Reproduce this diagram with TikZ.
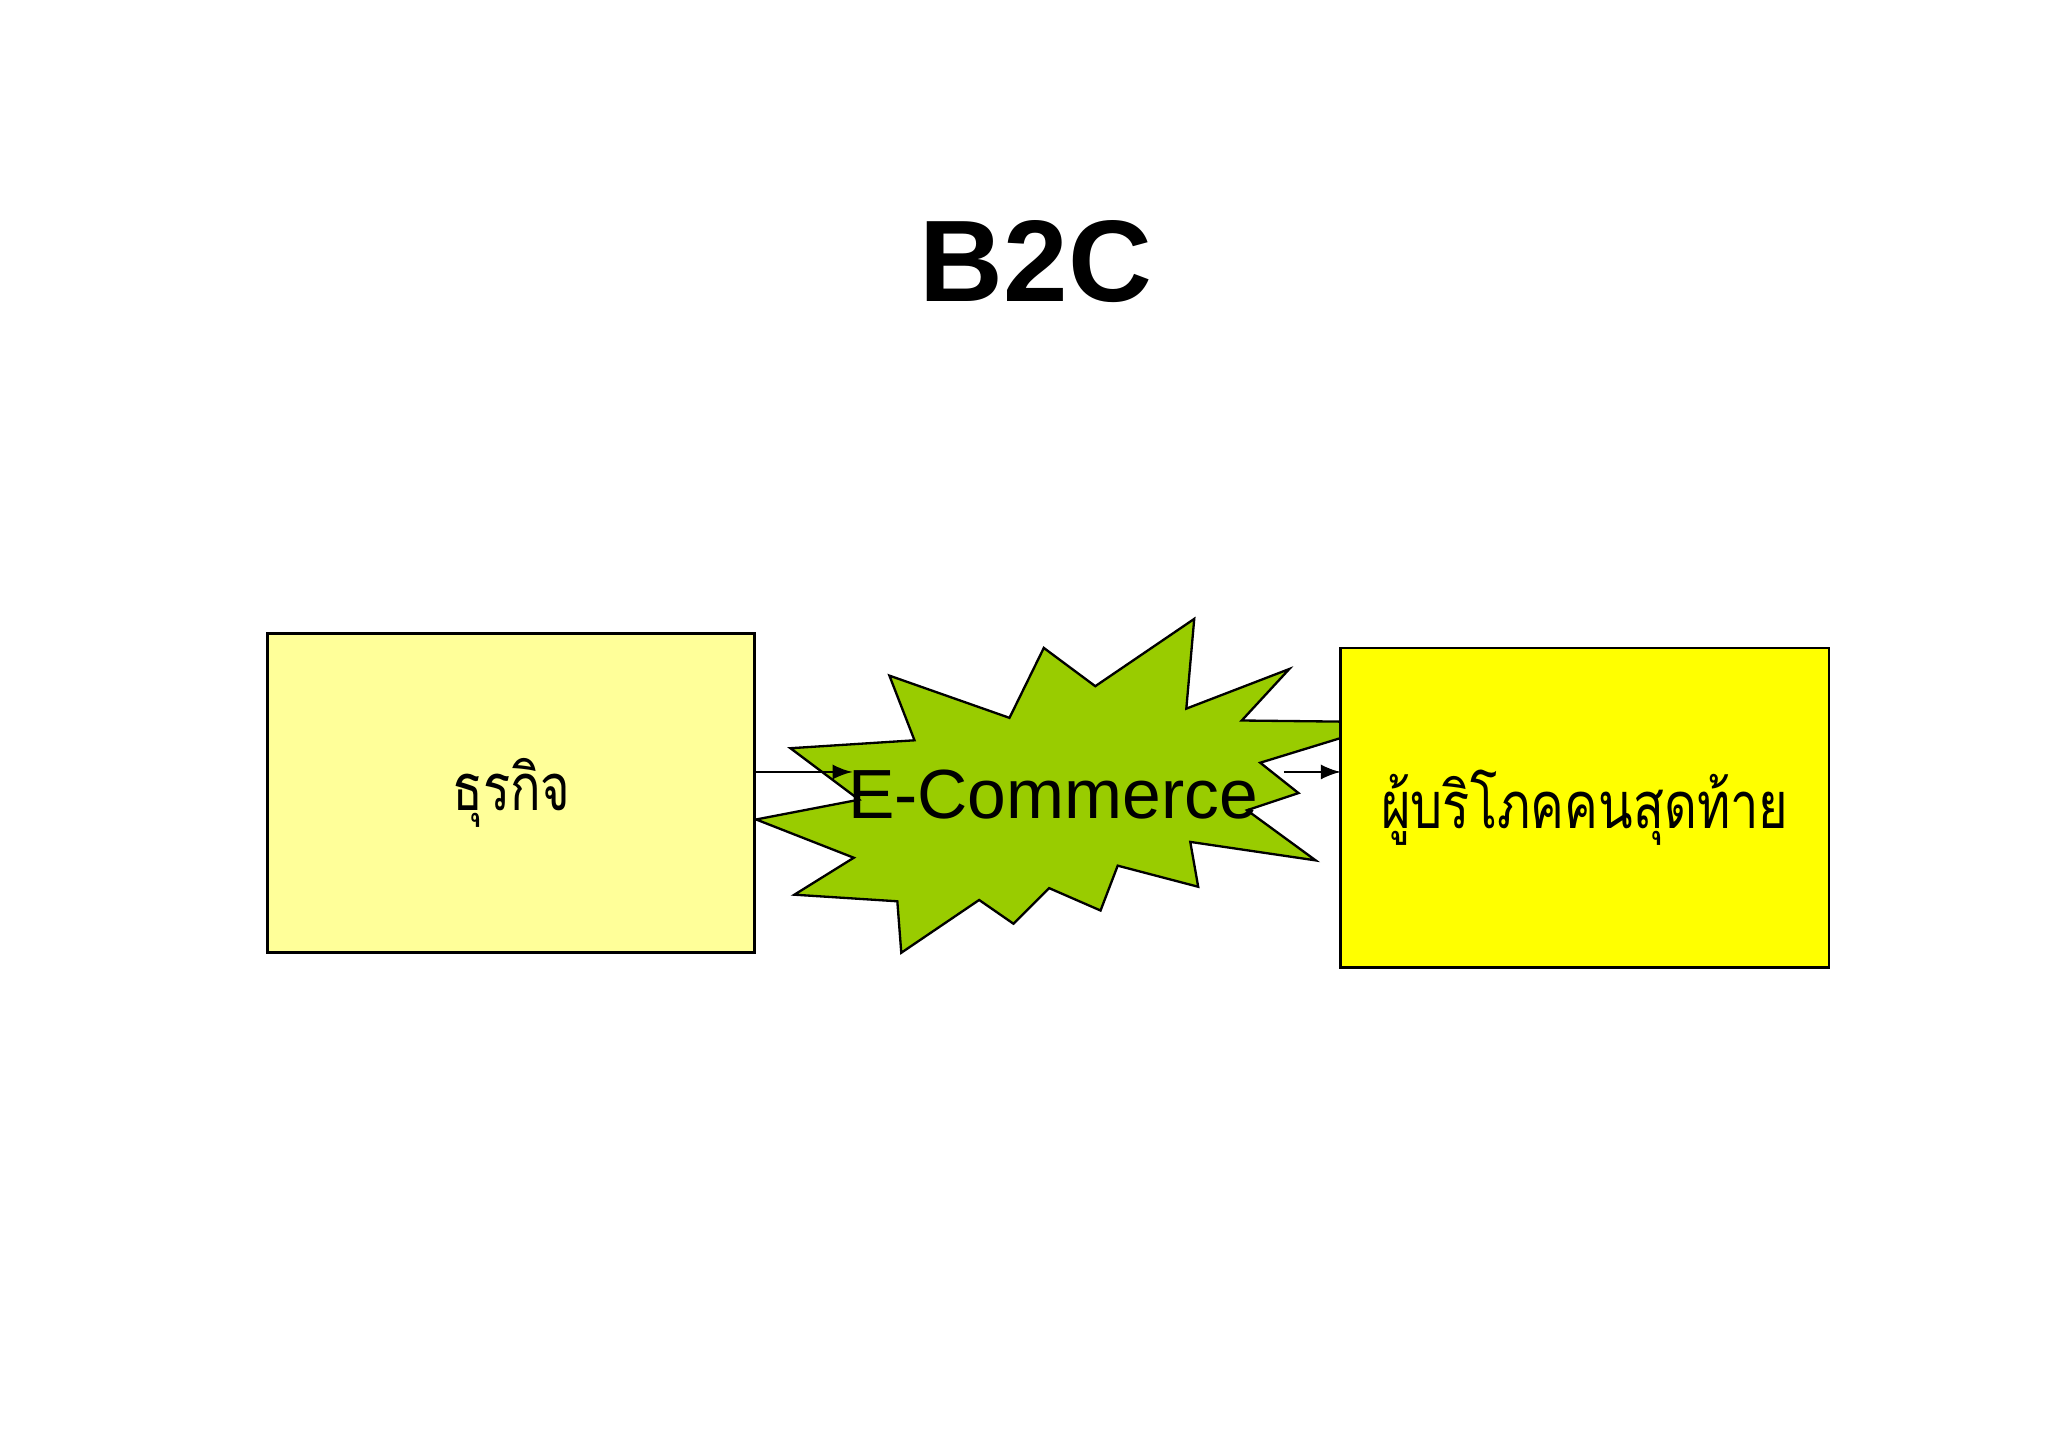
\documentclass[tikz,border=0pt]{standalone}
\usepackage{fontspec}
\setmainfont{Liberation Sans}
\newfontfamily\thaifont[Script=Thai]{Loma}
\begin{document}
\begin{tikzpicture}[x=0.01cm,y=-0.01cm,
  boxst/.style={draw=black,line width=0.6pt},
  thai/.style={font=\thaifont\fontsize{14}{17}\selectfont,xscale=0.78,transform shape},
  arr/.style={-latex,line width=0.5pt}]
\useasboundingbox[fill=white] (0,0) rectangle (1552,1097);
\node[font=\fontsize{25}{30}\selectfont\bfseries] (title) at (785,198) {B2C};
\filldraw[boxst,fill={rgb,255:red,153;green,204;blue,0},line width=0.5pt]
 (674,512)--(765,544)--(791,491)--(830,520)--(905,469)--(899,537)--(977,507)--(941,546)--(1030,547)
 --(1030,555)--(955,578)--(984,601)--(945,614)--(997,652)--(902,638)--(908,672)--(847,656)--(834,690)
 --(795,673)--(768,700)--(742,682)--(683,722)--(680,683)--(602,678)--(647,650)--(573,621)--(651,606)
 --(599,567)--(693,561)--cycle;
\filldraw[boxst,fill={rgb,255:red,255;green,255;blue,153}] (203,480) rectangle (572,722);
\filldraw[boxst,fill={rgb,255:red,255;green,255;blue,0}] (1016,491) rectangle (1386,733);
\node[thai] (biz) at (387.5,601) {ธุรกิจ};
\node[thai] (cons) at (1201,612) {ผู้บริโภคคนสุดท้าย};
\node[font=\fontsize{15}{18}\selectfont] (ec) at (798,602) {E-Commerce};
\coordinate (a1) at (572,585); \coordinate (a2) at (646,585);
\coordinate (b1) at (973,585); \coordinate (b2) at (1016,585);
\draw[arr] (a1) -- (a2);
\draw[arr] (b1) -- (b2);
\end{tikzpicture}
\end{document}
